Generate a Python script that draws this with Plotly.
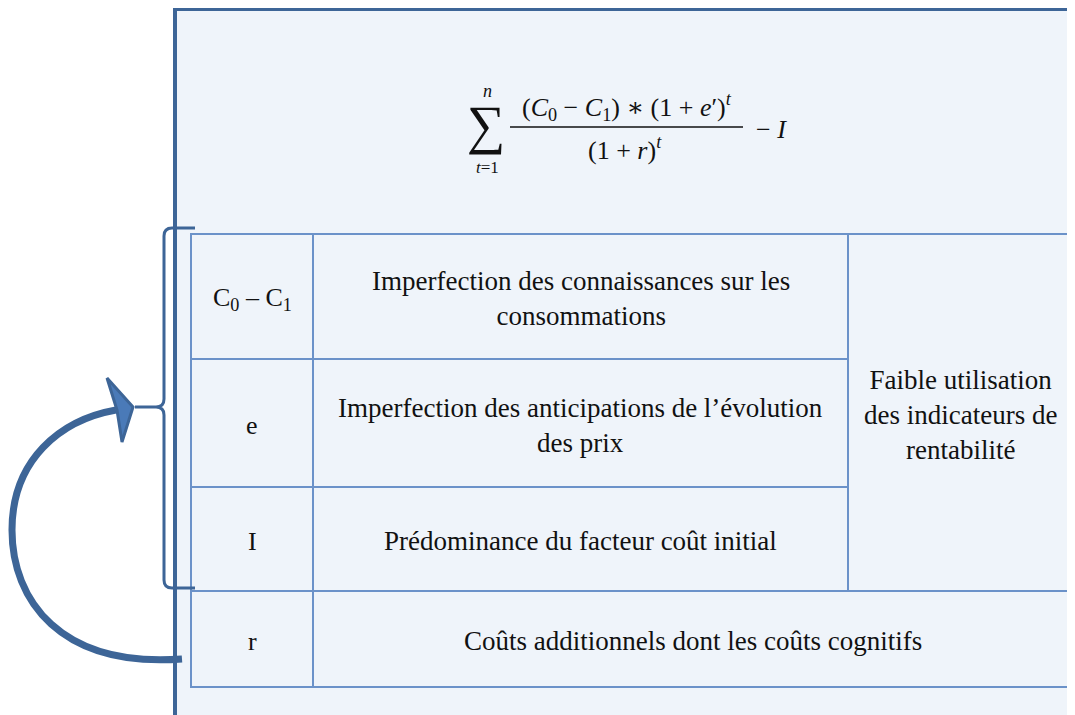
import plotly.graph_objects as go

# table content
symbols = ['C<sub>0</sub> – C<sub>1</sub>', 'e', 'I', 'r']
descriptions = [
    'Imperfection des connaissances sur les<br>consommations',
    'Imperfection des anticipations de l’évolution<br>des prix',
    'Prédominance du facteur coût initial',
    'Coûts additionnels dont les coûts cognitifs',
]
merged_text = 'Faible utilisation<br>des indicateurs de<br>rentabilité'

# formula pieces
numerator = '(<i>C</i><sub>0</sub> − <i>C</i><sub>1</sub>) ∗ (1 + <i>e</i>′)<sup><i>t</i></sup>'
denominator = '(1 + <i>r</i>)<sup><i>t</i></sup>'

# grid of the table (pixels)
col_x = [191, 313, 848, 1072]
row_y = [234, 359, 487, 591, 687]

DARK = '#3d6597'
GRID = '#6b92c9'
FILL = '#eff4fa'
TXT = '#111111'
SERIF = "'Liberation Serif', 'Times New Roman', 'DejaVu Serif', serif"

fig = go.Figure()
fig.add_trace(go.Scatter(x=[8, 1083], y=[8, 723], mode='markers',
                         marker=dict(opacity=0), hoverinfo='skip', showlegend=False))

shapes = []
# outer panel
shapes.append(dict(type='rect', x0=175, y0=9, x1=1110, y1=750,
                   fillcolor=FILL, line=dict(color=DARK, width=4), layer='below'))
# table border and inner lines
shapes.append(dict(type='rect', x0=col_x[0], y0=row_y[0], x1=col_x[3], y1=row_y[4],
                   line=dict(color=GRID, width=2)))
for c in col_x[1:3]:
    top, bot = row_y[0], (row_y[4] if c == col_x[1] else row_y[3])
    shapes.append(dict(type='line', x0=c, y0=top, x1=c, y1=bot, line=dict(color=GRID, width=2)))
for i, r in enumerate(row_y[1:4]):
    x1 = col_x[2] if i < 2 else col_x[3]
    shapes.append(dict(type='line', x0=col_x[0], y0=r, x1=x1, y1=r, line=dict(color=GRID, width=2)))

# brace
brace = ('M 195 228 L 172 228 Q 164 228 164 236 L 164 399 Q 164 407 156 407 L 135 407 '
         'M 156 407 Q 164 407 164 415 L 164 580 Q 164 588 172 588 L 195 588')
shapes.append(dict(type='path', path=brace, line=dict(color=DARK, width=3)))

# curved arrow
curve = 'M 182 659 C 60 668, 12 600, 12 530 C 12 460, 60 420, 116 410'
shapes.append(dict(type='path', path=curve, line=dict(color=DARK, width=7)))
head = 'M 133 407 L 107 378 L 117 410 L 122 442 Z'
shapes.append(dict(type='path', path=head, fillcolor='#4a7ab8', line=dict(color=DARK, width=3)))

# fraction bar
shapes.append(dict(type='line', x0=510, y0=127, x1=743, y1=127, line=dict(color=TXT, width=1.5)))

fig.update_layout(shapes=shapes)

ann = []
def add_text(x, y, text, size, family=SERIF):
    ann.append(dict(x=x, y=y, text=text, showarrow=False, xanchor='center', yanchor='middle',
                    font=dict(family=family, size=size, color=TXT)))

# table text
row_c = [(row_y[i] + row_y[i + 1]) / 2 for i in range(4)]
for i in range(4):
    add_text((col_x[0] + col_x[1]) / 2, row_c[i] + 2, symbols[i], 26)
    if i < 3:
        add_text((col_x[1] + col_x[2]) / 2, row_c[i] + 2, descriptions[i], 27)
    else:
        add_text((col_x[1] + col_x[3]) / 2, row_c[i] + 2, descriptions[i], 27)
add_text((col_x[2] + col_x[3]) / 2, (row_y[0] + row_y[3]) / 2 + 2, merged_text, 27)

# formula
add_text(486, 125, '∑', 54)
add_text(487, 91, '<i>n</i>', 18)
add_text(487, 167, '<i>t</i>=1', 17)
add_text(627, 107, numerator, 26)
add_text(625, 148, denominator, 26)
add_text(771, 129, '− <i>I</i>', 26)

fig.update_layout(
    annotations=ann,
    width=1075, height=715,
    margin=dict(l=0, r=0, t=0, b=0),
    paper_bgcolor='white', plot_bgcolor='white',
    xaxis=dict(range=[8, 1083], visible=False, fixedrange=True),
    yaxis=dict(range=[723, 8], visible=False, fixedrange=True),
    showlegend=False,
)

fig.write_html('out.html')
